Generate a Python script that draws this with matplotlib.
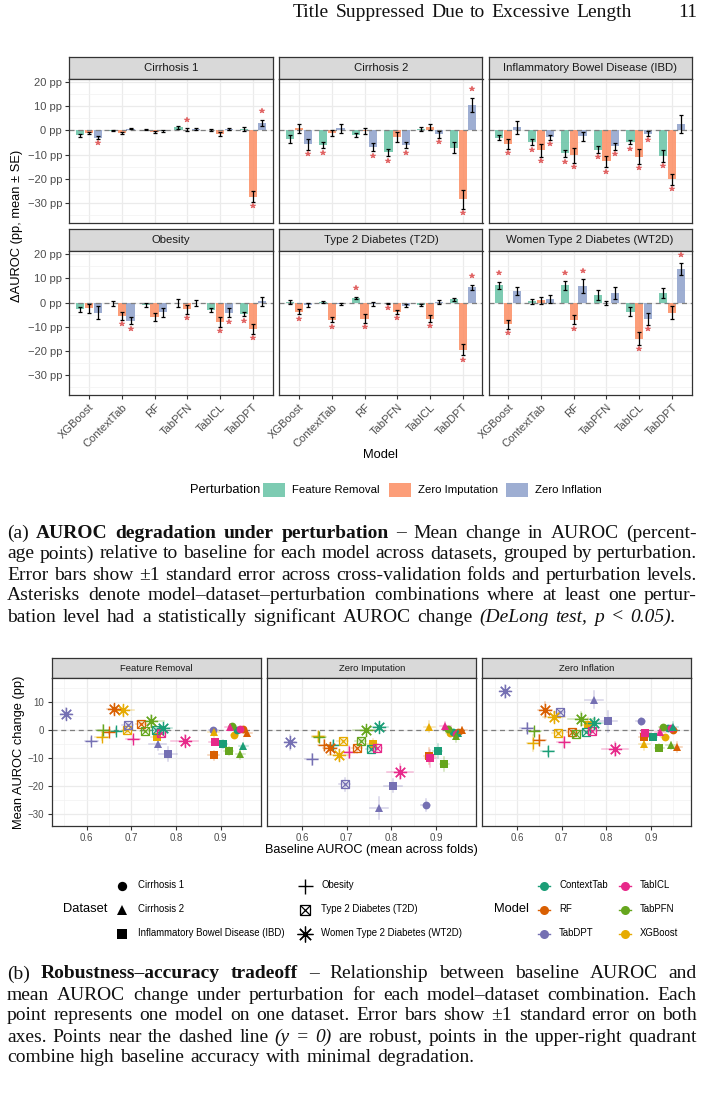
import matplotlib
matplotlib.use("Agg")
import matplotlib.pyplot as plt
import numpy as np

plt.rcParams['font.family'] = ['Liberation Sans', 'DejaVu Sans']

# ---------------- data ----------------
models = ["XGBoost", "ContextTab", "RF", "TabPFN", "TabICL", "TabDPT"]
datasets = ["Cirrhosis 1", "Cirrhosis 2", "Inflammatory Bowel Disease (IBD)",
            "Obesity", "Type 2 Diabetes (T2D)", "Women Type 2 Diabetes (WT2D)"]
perturbations = ["Feature Removal", "Zero Imputation", "Zero Inflation"]

# mean AUROC change (pp), rows = datasets, cols = models
fr_mean = [[-2.1, -0.2, 0.3, 1.2, 0.2, 0.6],
           [-3.6, -6.2, -2.0, -9.1, 0.4, -7.1],
           [-3.0, -4.8, -9.5, -7.9, -4.8, -10.6],
           [-2.7, -0.3, -1.1, -0.2, -2.9, -4.7],
           [0.3, 0.3, 2.0, -0.3, -0.8, 1.4],
           [7.1, 0.5, 7.1, 3.1, -3.7, 3.9]]
fr_se = [[0.5, 0.2, 0.3, 0.5, 0.4, 0.7],
         [1.7, 1.2, 0.8, 1.6, 0.8, 2.1],
         [1.0, 1.4, 1.6, 1.4, 1.0, 2.5],
         [1.0, 0.9, 0.8, 1.5, 0.8, 1.0],
         [0.8, 0.4, 0.4, 0.3, 0.4, 0.6],
         [1.6, 1.0, 1.7, 2.0, 1.9, 2.1]]
fr_sig = [[0, 0, 0, 0, 0, 0],
          [0, 1, 0, 1, 0, 0],
          [0, 1, 1, 1, 1, 1],
          [0, 0, 0, 0, 0, 1],
          [0, 0, 1, 1, 0, 0],
          [1, 0, 1, 0, 0, 0]]

zi_mean = [[-1.2, -1.1, -0.8, 0.3, -1.5, -27.3],
           [0.8, -1.2, -0.3, -2.8, 1.5, -28.4],
           [-5.5, -8.3, -10.3, -12.8, -10.8, -20.1],
           [-2.4, -5.5, -5.9, -2.7, -7.9, -10.9],
           [-3.8, -7.1, -6.6, -3.8, -6.6, -19.5],
           [-9.0, 1.0, -7.1, -0.2, -14.9, -4.2]]
zi_se = [[0.5, 0.5, 0.4, 0.5, 0.7, 2.3],
         [1.9, 1.2, 1.2, 2.1, 1.2, 3.9],
         [2.1, 2.6, 3.0, 2.4, 3.0, 2.3],
         [1.7, 1.5, 1.7, 1.9, 2.1, 1.9],
         [1.0, 1.1, 1.8, 0.9, 1.3, 2.3],
         [1.8, 1.4, 1.9, 0.8, 2.6, 2.7]]
zi_sig = [[0, 0, 0, 1, 0, 1],
          [0, 0, 0, 0, 0, 1],
          [1, 1, 1, 1, 1, 1],
          [0, 1, 0, 1, 1, 1],
          [1, 1, 1, 1, 1, 1],
          [1, 0, 1, 0, 1, 0]]

zinf_mean = [[-3.0, 0.7, -0.3, 0.6, 0.6, 3.0],
             [-5.8, 0.8, -7.0, -6.2, -1.7, 10.6],
             [1.2, -2.9, -2.5, -6.5, -1.3, 2.7],
             [-4.1, -7.5, -4.0, -0.3, -4.2, 0.6],
             [-0.9, -0.5, -0.5, -1.2, 0.2, 6.3],
             [4.7, 1.6, 6.8, 3.9, -6.7, 13.8]]
zinf_se = [[0.6, 0.3, 0.3, 0.4, 0.5, 1.2],
           [2.2, 1.9, 1.7, 1.2, 1.4, 2.9],
           [2.6, 1.0, 1.8, 1.4, 1.0, 3.7],
           [2.7, 1.4, 1.8, 1.2, 1.8, 1.8],
           [0.9, 0.35, 0.7, 0.8, 0.8, 1.1],
           [1.7, 1.6, 2.8, 2.4, 2.5, 2.4]]
zinf_sig = [[1, 0, 0, 0, 0, 1],
            [1, 0, 1, 1, 1, 1],
            [0, 1, 0, 1, 1, 0],
            [0, 1, 0, 0, 1, 0],
            [0, 0, 0, 0, 0, 1],
            [0, 0, 1, 0, 1, 1]]

# baseline AUROC (mean across folds), rows = datasets, cols = models
baseline_fr = [[0.931, 0.938, 0.950, 0.926, 0.944, 0.884],
               [0.885, 0.951, 0.960, 0.944, 0.922, 0.759],
               [0.757, 0.905, 0.885, 0.918, 0.887, 0.783],
               [0.635, 0.667, 0.650, 0.637, 0.704, 0.611],
               [0.691, 0.755, 0.723, 0.731, 0.766, 0.692],
               [0.682, 0.771, 0.661, 0.744, 0.820, 0.554]]
baseline_other = [[0.931, 0.938, 0.950, 0.926, 0.944, 0.877],
                  [0.885, 0.950, 0.959, 0.944, 0.921, 0.773],
                  [0.758, 0.904, 0.885, 0.918, 0.887, 0.803],
                  [0.636, 0.668, 0.650, 0.638, 0.704, 0.621],
                  [0.691, 0.754, 0.723, 0.731, 0.767, 0.695],
                  [0.683, 0.772, 0.662, 0.744, 0.819, 0.573]]
baseline_se = [[0.008, 0.008, 0.008, 0.008, 0.008, 0.010],
               [0.012, 0.010, 0.010, 0.010, 0.012, 0.020],
               [0.012, 0.010, 0.012, 0.010, 0.012, 0.020],
               [0.015, 0.015, 0.015, 0.015, 0.015, 0.015],
               [0.012, 0.012, 0.012, 0.012, 0.012, 0.012],
               [0.025, 0.020, 0.015, 0.030, 0.030, 0.012]]

# scatter y: mean AUROC change per perturbation
sc_fr = [[-2.0, -0.3, 0.3, 1.2, 0.2, 0.0],
         [-1.0, -5.9, -1.2, -8.8, 0.9, -5.3],
         [-2.6, -5.0, -9.1, -7.7, -4.6, -8.8],
         [-2.8, -0.5, -0.8, 0.0, -3.2, -3.9],
         [-0.3, -0.3, 1.9, -0.5, -1.1, 1.8],
         [6.9, 0.4, 7.2, 3.1, -4.0, 5.7]]
sc_zi = [[-1.1, -1.0, -0.8, 0.3, -1.5, -26.9],
         [1.0, -1.2, -0.3, -2.4, 1.4, -28.0],
         [-5.3, -7.7, -9.4, -12.2, -10.3, -20.1],
         [-2.4, -5.5, -5.5, -2.6, -8.1, -10.6],
         [-4.0, -6.8, -6.5, -3.9, -6.7, -19.5],
         [-9.2, 1.1, -6.6, 0.0, -15.0, -4.5]]
sc_zinf = [[-2.6, 0.7, -0.3, 0.8, 0.6, 3.0],
           [-5.0, 0.9, -6.2, -5.6, -0.9, 10.7],
           [1.5, -2.8, -2.5, -6.4, -1.2, 3.0],
           [-4.8, -7.6, -3.8, -0.6, -4.4, 0.6],
           [-1.2, -0.8, -0.8, -1.4, -0.5, 6.4],
           [4.5, 2.3, 6.9, 3.7, -7.0, 13.6]]

legend_models = ["ContextTab", "RF", "TabDPT", "TabICL", "TabPFN", "XGBoost"]
model_colors = {"ContextTab": "#1B9E77", "RF": "#D95F02", "TabDPT": "#7570B3",
                "TabICL": "#E7298A", "TabPFN": "#66A61E", "XGBoost": "#E6AB02"}
pert_colors = ["#66C2A5", "#FC8D62", "#8DA0CB"]

bar_yticks = [-30, -20, -10, 0, 10, 20]
sc_xticks = [0.6, 0.7, 0.8, 0.9]
sc_yticks = [-30, -20, -10, 0, 10]

header_text = "Title Suppressed Due to Excessive Length"
page_number = "11"
caption_a = [
    [("(a)", "normal", "normal"), ("AUROC degradation under perturbation", "bold", "normal"),
     ("– Mean change in AUROC (percent-", "normal", "normal")],
    [("age points) relative to baseline for each model across datasets, grouped by perturbation.", "normal", "normal")],
    [("Error bars show ±1 standard error across cross-validation folds and perturbation levels.", "normal", "normal")],
    [("Asterisks denote model–dataset–perturbation combinations where at least one pertur-", "normal", "normal")],
    [("bation level had a statistically significant AUROC change", "normal", "normal"),
     ("(DeLong test, p < 0.05).", "normal", "italic")],
]
caption_b = [
    [("(b)", "normal", "normal"), ("Robustness–accuracy tradeoff", "bold", "normal"),
     ("– Relationship between baseline AUROC and", "normal", "normal")],
    [("mean AUROC change under perturbation for each model–dataset combination. Each", "normal", "normal")],
    [("point represents one model on one dataset. Error bars show ±1 standard error on both", "normal", "normal")],
    [("axes. Points near the dashed line", "normal", "normal"), ("(y = 0)", "normal", "italic"),
     ("are robust, points in the upper-right quadrant", "normal", "normal")],
    [("combine high baseline accuracy with minimal degradation.", "normal", "normal")],
]

# ---------------- figure ----------------
W, H = 704, 1099
fig = plt.figure(figsize=(W / 100, H / 100), dpi=100)
fig.patch.set_facecolor("white")


def fx(x):
    return x / W


def fy(y):
    return 1 - y / H


def add_ax(x0, y0, x1, y1):
    return fig.add_axes([x0 / W, 1 - y1 / H, (x1 - x0) / W, (y1 - y0) / H])


def strip(x0, y0, x1, y1, label, size):
    a = add_ax(x0, y0, x1, y1)
    a.set_facecolor("#D9D9D9")
    a.set_xticks([])
    a.set_yticks([])
    for s in a.spines.values():
        s.set_color("#333333")
        s.set_linewidth(0.9)
    a.text(0.5, 0.48, label, transform=a.transAxes, ha="center", va="center",
           fontsize=size, color="#1A1A1A")


def style_panel(ax, size):
    ax.set_facecolor("white")
    for s in ax.spines.values():
        s.set_color("#333333")
        s.set_linewidth(0.9)
    ax.set_axisbelow(True)
    ax.grid(which="major", color="#EBEBEB", lw=0.9)
    ax.grid(which="minor", color="#F2F2F2", lw=0.5)
    ax.tick_params(which="major", colors="#333333", length=3.2, width=0.8,
                   labelcolor="#4D4D4D", labelsize=size, pad=2)
    ax.tick_params(which="minor", length=0)


def fmt_num(v):
    return str(v).replace("-", "\u2212")


# ---------------- top chart: bars ----------------
bar_cols = [69.3, 279.3, 488.5]
bar_w = 203.2
bar_rows = [(56.7, 78.5, 222.7), (229.3, 250.7, 395.0)]
pert_means = [fr_mean, zi_mean, zinf_mean]
pert_ses = [fr_se, zi_se, zinf_se]
pert_sigs = [fr_sig, zi_sig, zinf_sig]
offsets = [-0.27, 0.0, 0.27]
xs = np.arange(len(models))

for k, ds in enumerate(datasets):
    r, c = divmod(k, 3)
    st, sb, pb = bar_rows[r]
    x0 = bar_cols[c]
    x1 = x0 + bar_w
    strip(x0, st, x1, sb, ds, 8.2)
    ax = add_ax(x0, sb, x1, pb)
    style_panel(ax, 8.0)
    ax.set_xlim(-0.6, 5.6)
    ax.set_ylim(-38.1, 21.4)
    ax.set_yticks(bar_yticks)
    ax.set_yticks([-35, -25, -15, -5, 5, 15], minor=True)
    ax.set_xticks(xs)
    ax.axhline(0, color="#7F7F7F", lw=0.9, ls=(0, (4, 3)), zorder=2.5)
    for p in range(3):
        m = np.array(pert_means[p][k])
        se = np.array(pert_ses[p][k])
        pos = xs + offsets[p]
        ax.bar(pos, m, width=0.25, color=pert_colors[p], alpha=0.85, lw=0, zorder=2)
        ax.errorbar(pos, m, yerr=se, fmt="none", ecolor="black", elinewidth=0.9,
                    capsize=1.4, capthick=0.9, zorder=3)
        sig = np.array(pert_sigs[p][k], dtype=bool)
        sy = np.where(m >= 0, m + se + 3.6, m - se - 1.8)
        ax.plot(pos[sig], sy[sig], ls="none", marker="*", ms=3.8, color="#E06666",
                mec="#D44", mew=0.3, zorder=4)
    if c == 0:
        ax.set_yticklabels([fmt_num(v) + " pp" for v in bar_yticks])
    else:
        ax.tick_params(which="major", left=False, labelleft=False)
    if r == 1:
        ax.set_xticklabels(models, rotation=45, ha="right", rotation_mode="anchor")
    else:
        ax.tick_params(which="major", bottom=False, labelbottom=False)

fig.text(fx(17), fy(226), "\u0394AUROC (pp, mean \u00b1 SE)", rotation=90,
         ha="center", va="center", fontsize=9.3, color="black")
fig.text(fx(380.5), fy(455), "Model", ha="center", va="center", fontsize=9.3)

# perturbation legend
fig.text(fx(190), fy(490), "Perturbation", ha="left", va="center", fontsize=9.3)
leg_keys = [263, 389, 506]
for p in range(3):
    la = add_ax(leg_keys[p], 483.5, leg_keys[p] + 22, 496.5)
    la.set_xlim(0, 1)
    la.set_ylim(0, 1)
    la.axis("off")
    la.bar([0.5], [1], width=1, bottom=0, color=pert_colors[p], alpha=0.85, lw=0)
    fig.text(fx(leg_keys[p] + 29), fy(490), perturbations[p], ha="left", va="center",
             fontsize=8.2)

# ---------------- bottom chart: scatter ----------------


def draw_shape(ax, x, y, k, color, scale=1.0, zorder=3):
    if k == 0:
        ax.plot(x, y, "o", ms=5.6 * scale, color=color, mew=0, zorder=zorder)
    elif k == 1:
        ax.plot(x, y, "^", ms=6.4 * scale, color=color, mew=0, zorder=zorder)
    elif k == 2:
        ax.plot(x, y, "s", ms=5.6 * scale, color=color, mew=0, zorder=zorder)
    elif k == 3:
        ax.plot(x, y, "+", ms=9.0 * scale, color=color, mew=1.0, zorder=zorder)
    elif k == 4:
        ax.plot(x, y, "s", ms=6.0 * scale, mfc="none", mec=color, mew=0.9, zorder=zorder)
        ax.plot(x, y, "x", ms=6.0 * scale, color=color, mew=0.9, zorder=zorder)
    else:
        ax.plot(x, y, marker=(8, 2, 0), ms=9.5 * scale, color=color, mew=0.9, zorder=zorder)


sc_cols = [51.7, 267.3, 482.3]
sc_w = 209.0
sc_base = [baseline_fr, baseline_other, baseline_other]
sc_vals = [sc_fr, sc_zi, sc_zinf]

for p in range(3):
    x0 = sc_cols[p]
    x1 = x0 + sc_w
    strip(x0, 657.7, x1, 678.3, perturbations[p], 6.8)
    ax = add_ax(x0, 678.3, x1, 826.0)
    style_panel(ax, 7.0)
    ax.set_xlim(0.522, 0.99)
    ax.set_ylim(-34.4, 18.3)
    ax.set_xticks(sc_xticks)
    ax.set_xticks([0.55, 0.65, 0.75, 0.85, 0.95], minor=True)
    ax.set_yticks(sc_yticks)
    ax.set_yticks([-25, -15, -5, 5, 15], minor=True)
    ax.set_xticklabels([str(v) for v in sc_xticks])
    if p == 0:
        ax.set_yticklabels([fmt_num(v) for v in sc_yticks])
    else:
        ax.tick_params(which="major", left=False, labelleft=False)
    ax.axhline(0, color="#7F7F7F", lw=0.9, ls=(0, (4, 3)), zorder=1.5)
    bx = np.array(sc_base[p])
    by = np.array(sc_vals[p])
    yse = np.array(pert_ses[p])
    xse = np.array(baseline_se)
    for k in range(len(datasets)):
        for j, mdl in enumerate(models):
            col = model_colors[mdl]
            ax.plot([bx[k, j] - xse[k, j], bx[k, j] + xse[k, j]], [by[k, j]] * 2,
                    color=col, alpha=0.3, lw=1.1, zorder=2)
            ax.plot([bx[k, j]] * 2, [by[k, j] - yse[k, j], by[k, j] + yse[k, j]],
                    color=col, alpha=0.3, lw=1.1, zorder=2)
    for k in range(len(datasets)):
        for j, mdl in enumerate(models):
            draw_shape(ax, bx[k, j], by[k, j], k, model_colors[mdl])

fig.text(fx(19), fy(752), "Mean AUROC change (pp)", rotation=90, ha="center",
         va="center", fontsize=9.3)
fig.text(fx(371.5), fy(850), "Baseline AUROC (mean across folds)", ha="center",
         va="center", fontsize=9.2)

# dataset / model legends
lg = fig.add_axes([0, 0, 1, 1])
lg.set_xlim(0, W)
lg.set_ylim(H, 0)
lg.axis("off")
lg.patch.set_alpha(0)
fig.text(fx(63), fy(909.5), "Dataset", ha="left", va="center", fontsize=9.3)
rows_y = [885.5, 909.5, 933.5]
for k, ds in enumerate(datasets):
    col_i, row_i = divmod(k, 3)
    mx = [122, 305][col_i]
    draw_shape(lg, mx, rows_y[row_i], k, "black", scale=1.2)
    fig.text(fx(mx + 16), fy(rows_y[row_i]), ds, ha="left", va="center", fontsize=6.9)
fig.text(fx(494), fy(909.5), "Model", ha="left", va="center", fontsize=9.3)
for i, mdl in enumerate(legend_models):
    col_i, row_i = divmod(i, 3)
    mx = [544, 625][col_i]
    col = model_colors[mdl]
    lg.plot([mx - 6, mx + 6], [rows_y[row_i]] * 2, color=col, lw=1.0)
    lg.plot(mx, rows_y[row_i], "o", ms=6.5, color=col, mew=0)
    fig.text(fx(mx + 15), fy(rows_y[row_i]), mdl, ha="left", va="center", fontsize=6.9)

# ---------------- page text ----------------
renderer = fig.canvas.get_renderer()
SERIF = ["Liberation Serif", "DejaVu Serif"]


def make_tokens(segments):
    toks = []
    for text, wt, stl in segments:
        for w in text.split():
            toks.append((w, wt, stl))
    return toks


def measure(toks, size):
    objs = []
    for w, wt, stl in toks:
        t = fig.text(0, 0, w, fontsize=size, family=SERIF, weight=wt, style=stl,
                     ha="left", va="baseline", color="#111111")
        objs.append(t)
    widths = [t.get_window_extent(renderer).width for t in objs]
    return objs, widths


def space_width(size):
    a = fig.text(0, 0, "x x", fontsize=size, family=SERIF)
    b = fig.text(0, 0, "xx", fontsize=size, family=SERIF)
    w = a.get_window_extent(renderer).width - b.get_window_extent(renderer).width
    a.remove()
    b.remove()
    return w


def natural_width(segments, size):
    toks = make_tokens(segments)
    objs, widths = measure(toks, size)
    for o in objs:
        o.remove()
    return sum(widths) + space_width(size) * (len(toks) - 1)


def place_line(segments, x0, x1, y, size):
    toks = make_tokens(segments)
    objs, widths = measure(toks, size)
    if len(toks) > 1:
        gap = (x1 - x0 - sum(widths)) / (len(toks) - 1)
    else:
        gap = 0
    x = x0
    for o, w in zip(objs, widths):
        o.set_position((fx(x), fy(y)))
        x += w + gap


REF = 12.0
ratios = []
for lines in (caption_a, caption_b):
    for ln in lines[:4]:
        ratios.append(690.0 / natural_width(ln, REF))
cap_size = REF * float(np.median(ratios)) * 0.96

a_base = [537.5, 558.5, 579.5, 600.5, 621.5]
b_base = [978.5, 999.5, 1020.5, 1041.5, 1062.5]
a_ends = [697, 697, 697, 697, 676]
b_ends = [697, 697, 697, 697, 474]
for ln, yb, xe in zip(caption_a, a_base, a_ends):
    place_line(ln, 7, xe, yb, cap_size)
for ln, yb, xe in zip(caption_b, b_base, b_ends):
    place_line(ln, 7, xe, yb, cap_size)

hdr = [(header_text, "normal", "normal")]
hdr_size = REF * 339.0 / natural_width(hdr, REF) * 0.97
place_line(hdr, 293, 632, 17, hdr_size)
fig.text(fx(697), fy(17), page_number, ha="right", va="baseline", fontsize=hdr_size,
         family=SERIF, color="#111111")

fig.savefig("out.png", dpi=100)
